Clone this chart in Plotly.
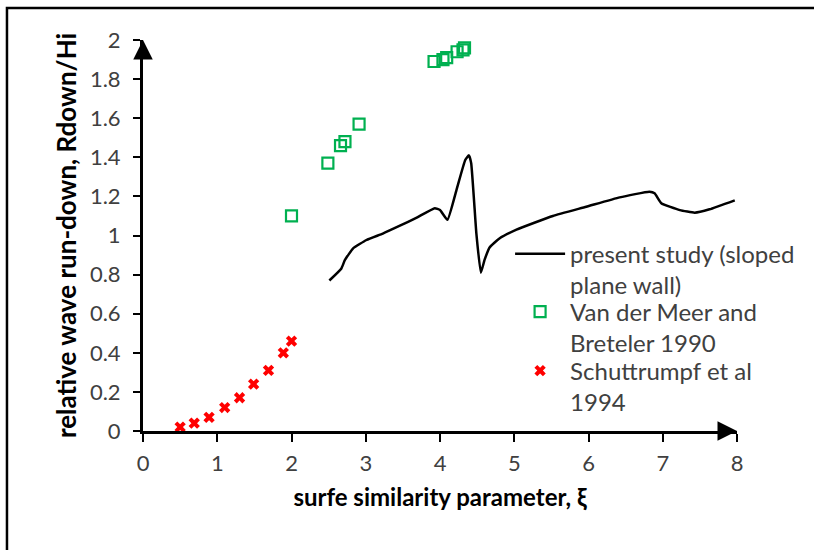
import plotly.graph_objects as go

# Present study (sloped plane wall) - curve
study_x = [2.51, 2.67, 2.72, 2.83, 3.01, 3.23, 3.46, 3.68, 3.93, 4.00, 4.10, 4.22, 4.34, 4.39, 4.42,
           4.49, 4.55, 4.60, 4.67, 4.80, 5.03, 5.52, 5.97, 6.42, 6.82, 6.89, 6.98, 7.23, 7.43, 7.63, 7.97]
study_y = [0.77, 0.83, 0.875, 0.934, 0.977, 1.01, 1.05, 1.09, 1.14, 1.13, 1.08, 1.23, 1.386, 1.41, 1.37,
           1.01, 0.81, 0.875, 0.94, 0.985, 1.03, 1.10, 1.147, 1.195, 1.224, 1.216, 1.165, 1.13, 1.117, 1.134, 1.18]

# Van der Meer and Breteler 1990
vdm_x = [2.00, 2.49, 2.66, 2.72, 2.91, 3.92, 4.04, 4.09, 4.23, 4.31, 4.33]
vdm_y = [1.10, 1.37, 1.46, 1.48, 1.57, 1.89, 1.90, 1.91, 1.94, 1.95, 1.96]

# Schuttrumpf et al 1994
sch_x = [0.50, 0.69, 0.89, 1.10, 1.30, 1.49, 1.69, 1.89, 2.00]
sch_y = [0.02, 0.04, 0.07, 0.12, 0.17, 0.24, 0.31, 0.40, 0.46]

x_ticks = [0, 1, 2, 3, 4, 5, 6, 7, 8]
y_ticks = [0, 0.2, 0.4, 0.6, 0.8, 1, 1.2, 1.4, 1.6, 1.8, 2]

FONT = "Lato"
GRAY = "#404040"

fig = go.Figure()
fig.add_trace(go.Scatter(
    x=study_x, y=study_y, mode="lines",
    line=dict(color="black", width=2.5, shape="spline", smoothing=0.4),
    name="present study (sloped<br>plane wall)", legend="legend"))
fig.add_trace(go.Scatter(
    x=vdm_x, y=vdm_y, mode="markers",
    marker=dict(symbol="square-open", size=11, color="#00B050", line=dict(width=2.2, color="#00B050")),
    name="Van der Meer and<br>Breteler 1990", legend="legend2"))
fig.add_trace(go.Scatter(
    x=sch_x, y=sch_y, mode="markers",
    marker=dict(symbol="x", size=10, color="#FF0000"),
    name="Schuttrumpf et al<br>1994", legend="legend3"))

axis_common = dict(
    showgrid=False, zeroline=False, showline=True, linecolor="black", linewidth=3,
    ticks="outside", tickcolor="black", tickwidth=2, automargin=False,
    tickfont=dict(family=FONT, size=22, color=GRAY),
)

fig.update_xaxes(range=[0, 8], tickvals=x_ticks, ticklen=8, ticklabelstandoff=3,
                 title=dict(text="<b>surfe similarity parameter, ξ</b>",
                            font=dict(family=FONT, size=24, color="black"), standoff=14),
                 **axis_common)
fig.update_yaxes(range=[0, 2], tickvals=y_ticks, ticklen=7, ticklabelstandoff=8,
                 title=dict(text="<b>relative wave run-down, Rdown/Hi</b>",
                            font=dict(family=FONT, size=26, color="black"), standoff=6),
                 **axis_common)

# axis arrows
fig.add_annotation(x=8, y=0, ax=7.75, ay=0, xref="x", yref="y", axref="x", ayref="y",
                   showarrow=True, arrowhead=2, arrowsize=1.3, arrowwidth=3, arrowcolor="black",
                   text="", standoff=0)
fig.add_annotation(x=0, y=2, ax=0, ay=1.9, xref="x", yref="y", axref="x", ayref="y",
                   showarrow=True, arrowhead=2, arrowsize=1.3, arrowwidth=3, arrowcolor="black",
                   text="", standoff=0)

# outer frame (left and top edges visible)
fig.add_shape(type="rect", xref="paper", yref="paper", x0=-0.229, x1=1.5, y0=-1.0, y1=1.082,
              line=dict(color="black", width=2.5))

leg_common = dict(xanchor="left", yanchor="top", font=dict(family=FONT, size=24, color=GRAY),
                  bgcolor="rgba(0,0,0,0)", valign="top", itemwidth=50)

fig.update_layout(
    width=814, height=550,
    margin=dict(l=143, r=77, t=40, b=119, autoexpand=False),
    paper_bgcolor="white", plot_bgcolor="white",
    font=dict(family=FONT, color=GRAY),
    showlegend=True,
    legend=dict(x=0.618, y=0.51, **leg_common),
    legend2=dict(x=0.618, y=0.362, **leg_common),
    legend3=dict(x=0.618, y=0.211, **leg_common),
)

fig.write_html("out.html", config={"displayModeBar": False},
               post_script="document.body.style.margin='0px';")
